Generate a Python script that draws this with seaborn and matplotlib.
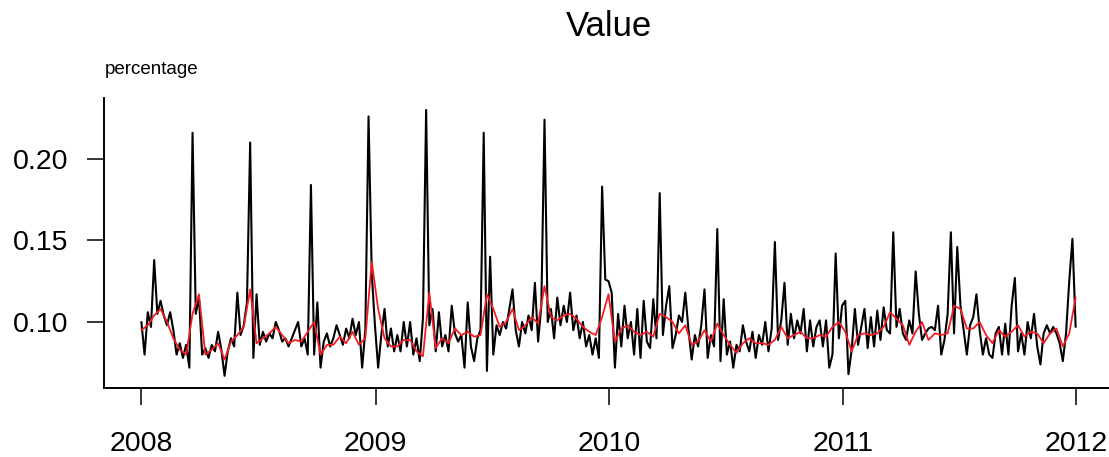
import numpy as np
import pandas as pd
import matplotlib
matplotlib.use("Agg")
import matplotlib.pyplot as plt
import seaborn as sns

# ---- data ----
# daily-ish values sampled every 5 days, 2008-01-01 .. 2011-12-31
value_black = [
    0.100, 0.080, 0.106, 0.097, 0.138, 0.105, 0.113, 0.104, 0.098, 0.106,
    0.095, 0.080, 0.087, 0.078, 0.086, 0.072, 0.216, 0.105, 0.115, 0.080,
    0.084, 0.078, 0.086, 0.082, 0.094, 0.083, 0.067, 0.082, 0.090, 0.085,
    0.118, 0.092, 0.098, 0.112, 0.210, 0.078, 0.117, 0.086, 0.094, 0.088,
    0.093, 0.090, 0.100, 0.095, 0.088, 0.090, 0.085, 0.090, 0.095,
    0.100, 0.085, 0.090, 0.080, 0.184, 0.080, 0.112, 0.072, 0.088, 0.093,
    0.085, 0.090, 0.098, 0.092, 0.086, 0.096, 0.090, 0.102, 0.092, 0.100,
    0.072, 0.095, 0.226, 0.130, 0.098, 0.072, 0.092, 0.108, 0.085, 0.096,
    0.082, 0.092, 0.082, 0.100, 0.085, 0.100, 0.080, 0.090, 0.076, 0.102,
    0.230, 0.098, 0.108, 0.082, 0.106, 0.085, 0.092, 0.082, 0.110, 0.093,
    0.088, 0.092, 0.072, 0.112, 0.085, 0.076, 0.090, 0.095, 0.216, 0.070,
    0.140, 0.080, 0.098, 0.092, 0.100, 0.096, 0.108, 0.120, 0.095, 0.085,
    0.100, 0.093, 0.104, 0.095, 0.124, 0.088, 0.110, 0.224, 0.100, 0.108,
    0.090, 0.115, 0.098, 0.110, 0.100, 0.118, 0.095, 0.104, 0.090, 0.100,
    0.085, 0.092, 0.080, 0.090, 0.078, 0.183, 0.126, 0.125, 0.118, 0.072,
    0.105, 0.085, 0.110, 0.090, 0.100, 0.080, 0.108, 0.078, 0.113, 0.088,
    0.084, 0.114, 0.090, 0.179, 0.092, 0.110, 0.122, 0.084, 0.092, 0.104,
    0.100, 0.118, 0.095, 0.077, 0.092, 0.085, 0.098, 0.120, 0.078, 0.092,
    0.085, 0.157, 0.076, 0.114, 0.080, 0.088, 0.072, 0.086, 0.082, 0.098,
    0.088, 0.082, 0.094, 0.078, 0.092, 0.086, 0.100, 0.082, 0.096, 0.149,
    0.089, 0.101, 0.124, 0.086, 0.105, 0.090, 0.101, 0.093, 0.108, 0.082,
    0.101, 0.085, 0.097, 0.101, 0.085, 0.101, 0.072, 0.080, 0.142, 0.090,
    0.110, 0.113, 0.068, 0.083, 0.108, 0.086, 0.097, 0.108, 0.084, 0.103,
    0.085, 0.107, 0.089, 0.109, 0.095, 0.093, 0.155, 0.097, 0.108, 0.093,
    0.089, 0.101, 0.093, 0.131, 0.105, 0.089, 0.093, 0.096, 0.097, 0.095,
    0.110, 0.080, 0.089, 0.105, 0.155, 0.093, 0.146, 0.110, 0.095, 0.080,
    0.098, 0.103, 0.117, 0.095, 0.080, 0.090, 0.080, 0.078, 0.093, 0.097,
    0.080, 0.099, 0.080, 0.110, 0.127, 0.082, 0.093, 0.080, 0.100, 0.090,
    0.105, 0.085, 0.074, 0.093, 0.098, 0.093, 0.097, 0.093, 0.087, 0.076,
    0.093, 0.125, 0.151, 0.097,
]

# smoothed series sampled every 10 days
value_red = [
    0.095, 0.098, 0.104, 0.108, 0.100, 0.090, 0.083, 0.080, 0.105, 0.117,
    0.080, 0.083, 0.087, 0.077, 0.088, 0.092, 0.097, 0.120, 0.087, 0.090,
    0.093, 0.097, 0.092, 0.087, 0.089, 0.088, 0.094, 0.100, 0.080, 0.086,
    0.086, 0.091, 0.087, 0.094, 0.086, 0.090, 0.137, 0.108, 0.090, 0.085,
    0.085, 0.089, 0.089, 0.082, 0.079, 0.118, 0.084, 0.090, 0.087, 0.096,
    0.092, 0.094, 0.091, 0.092, 0.117, 0.108, 0.097, 0.100, 0.108, 0.095,
    0.098, 0.103, 0.099, 0.122, 0.103, 0.101, 0.104, 0.105, 0.102, 0.097,
    0.094, 0.092, 0.103, 0.117, 0.088, 0.096, 0.098, 0.094, 0.092, 0.094,
    0.091, 0.105, 0.103, 0.100, 0.093, 0.098, 0.086, 0.088, 0.095, 0.088,
    0.099, 0.092, 0.086, 0.081, 0.087, 0.090, 0.087, 0.087, 0.086, 0.089,
    0.097, 0.090, 0.092, 0.094, 0.090, 0.090, 0.092, 0.091, 0.097, 0.100,
    0.094, 0.082, 0.092, 0.093, 0.092, 0.093, 0.097, 0.106, 0.102, 0.098,
    0.086, 0.094, 0.100, 0.089, 0.093, 0.092, 0.093, 0.110, 0.108, 0.096,
    0.096, 0.100, 0.092, 0.087, 0.095, 0.091, 0.094, 0.098, 0.091, 0.094,
    0.093, 0.087, 0.093, 0.096, 0.085, 0.093, 0.115,
]

year_ticks = ["2008", "2009", "2010", "2011", "2012"]
y_ticks = [0.10, 0.15, 0.20]
y_tick_labels = ["0.10", "0.15", "0.20"]
title_text = "Value"
unit_text = "percentage"

# ---- frames ----
dates_black = pd.date_range("2008-01-01", periods=len(value_black), freq="5D")
dates_red = pd.date_range("2008-01-01", periods=len(value_red), freq="10D")
df_black = pd.DataFrame({"date": dates_black, "value": value_black})
df_red = pd.DataFrame({"date": dates_red, "value": value_red})

# ---- style ----
sns.set_style("white")
plt.rcParams["font.family"] = ["Liberation Sans", "DejaVu Sans"]

W, H = 1109, 457
fig = plt.figure(figsize=(W / 100, H / 100), dpi=100)
left_px, right_px, top_px, bottom_px = 104, 1113, 98, 388
ax = fig.add_axes([left_px / W, (H - bottom_px) / H,
                   (right_px - left_px) / W, (bottom_px - top_px) / H])

sns.lineplot(data=df_black, x="date", y="value", color="black",
             linewidth=1.5, ax=ax, legend=False)
sns.lineplot(data=df_red, x="date", y="value", color="#f21c24",
             linewidth=1.3, ax=ax, legend=False)

start = pd.Timestamp("2008-01-01")
end = dates_black[-1]
pad = (end - start) * 0.04
ax.set_xlim(start - pad, end + pad)
ax.set_ylim(0.05954, 0.2373)

ax.set_xticks([pd.Timestamp(f"{y}-01-01") for y in year_ticks])
ax.set_xticklabels(year_ticks)
ax.set_yticks(y_ticks)
ax.set_yticklabels(y_tick_labels)

ax.set_xlabel("")
ax.set_ylabel("")

for s in ["top", "right"]:
    ax.spines[s].set_visible(False)
for s in ["left", "bottom"]:
    ax.spines[s].set_color("black")
    ax.spines[s].set_linewidth(1.4)

ax.tick_params(axis="both", which="major", direction="out", length=12.2,
               width=1.1, color="black", labelsize=20.5, labelcolor="black",
               bottom=True, left=True, top=False, right=False)
ax.tick_params(axis="y", pad=13.5)
ax.tick_params(axis="x", pad=19)

fig.text(608.5 / W, 1 - 27 / H, title_text, ha="center", va="center",
         fontsize=25, color="black")
fig.text(105 / W, 1 - 70 / H, unit_text, ha="left", va="center",
         fontsize=13.5, color="black")

fig.savefig("out.png", dpi=100)
